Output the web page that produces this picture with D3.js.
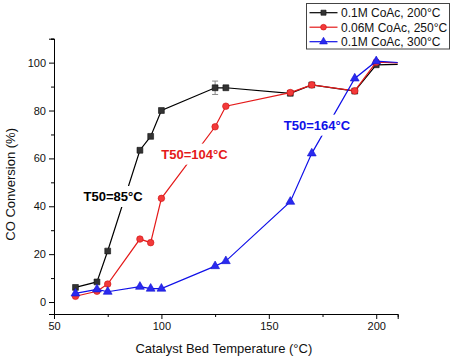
<!DOCTYPE html>
<html>
<head>
<meta charset="utf-8">
<script src="https://cdn.jsdelivr.net/npm/d3@7"></script>
<style>
body { margin: 0; background: #fff; }
text { font-family: Arial, "Liberation Sans", sans-serif; }
</style>
</head>
<body>
<script>
// data
var temps = [60, 70, 75, 90, 95, 100, 125, 130, 160, 170, 190, 200, 215];
var conv200 = [6.1, 8.4, 21.3, 63.4, 69.2, 80.0, 89.5, 89.5, 87.2, 90.7, 88.1, 99.1, 99.4];
var err200 = [0, 0, 0, 0, 0, 0, 2.8, 0, 0, 0, 0, 0, 0];
var conv250 = [2.4, 4.5, 7.5, 26.3, 24.8, 43.3, 73.2, 81.8, 87.5, 90.7, 88.2, 100.2, 99.8];
var conv300 = [3.6, 5.3, 4.3, 6.4, 5.6, 5.6, 15.0, 17.1, 41.9, 62.1, 93.4, 100.6, 99.8];
var seriesNames = ["0.1M CoAc, 200°C", "0.06M CoAc, 250°C", "0.1M CoAc, 300°C"];
var t50Labels = ["T50=85°C", "T50=104°C", "T50=164°C"];
var xTicks = [50, 100, 150, 200];
var yTicks = [0, 20, 40, 60, 80, 100];

var W = 454, H = 360;
var x = d3.scaleLinear().domain([50, 210]).range([54, 397.7]);
var y = d3.scaleLinear().domain([-5, 110]).range([314, 38.7]);

var svg = d3.select("body").append("svg").attr("width", W).attr("height", H);

svg.append("defs").append("clipPath").attr("id", "plotclip")
  .append("rect").attr("x", x(50)).attr("y", y(110))
  .attr("width", x(210) - x(50)).attr("height", y(-5) - y(110));

var series = [
  {name: seriesNames[0], vals: conv200, line: "#000", fill: "#333", stroke: "#111", sym: d3.symbolSquare, size: 34},
  {name: seriesNames[1], vals: conv250, line: "#e41a1a", fill: "#f23a3a", stroke: "#d01010", sym: d3.symbolCircle, size: 34},
  {name: seriesNames[2], vals: conv300, line: "#1010e8", fill: "#2a2af0", stroke: "#1010d0", sym: d3.symbolTriangle, size: 34}
];

// axes
var yAxis = d3.axisLeft(y).tickValues(yTicks).tickSize(5).tickPadding(3);
var yMinor = d3.axisLeft(y).tickValues([10, 30, 50, 70, 90, 110]).tickSize(3).tickFormat("");
var xAxis = d3.axisBottom(x).tickValues(xTicks).tickSize(5).tickPadding(3);
var xMinor = d3.axisBottom(x).tickValues([75, 125, 175]).tickSize(3).tickFormat("");

function styleAxis(g) {
  g.selectAll("path.domain").attr("stroke", "#000");
  g.selectAll("line").attr("stroke", "#000");
  g.selectAll("text").attr("font-size", 11).attr("fill", "#111")
    .attr("font-family", "Arial, 'Liberation Sans', sans-serif");
}

svg.append("g").attr("transform", "translate(" + x(50) + ",0)").call(yAxis).call(styleAxis);
svg.append("g").attr("transform", "translate(" + x(50) + ",0)").call(yMinor).call(styleAxis);
svg.append("g").attr("transform", "translate(0," + y(-5) + ")").call(xAxis).call(styleAxis);
svg.append("g").attr("transform", "translate(0," + y(-5) + ")").call(xMinor).call(styleAxis);

svg.append("text").attr("transform", "translate(15," + ((y(110) + y(-5)) / 2 + 8) + ") rotate(-90)")
  .attr("text-anchor", "middle").attr("font-size", 13).attr("fill", "#111")
  .text("CO Conversion (%)");
svg.append("text").attr("x", (x(50) + x(210)) / 2 - 2).attr("y", 353)
  .attr("text-anchor", "middle").attr("font-size", 13).attr("fill", "#111")
  .text("Catalyst Bed Temperature (°C)");

var plot = svg.append("g").attr("clip-path", "url(#plotclip)");

var line = d3.line().x(function(d) { return x(d.t); }).y(function(d) { return y(d.v); });

// error bars
var errData = temps.map(function(t, i) { return {t: t, v: conv200[i], e: err200[i]}; })
  .filter(function(d) { return d.e > 0; });
var eb = plot.selectAll("g.err").data(errData).join("g").attr("class", "err")
  .attr("stroke", "#888").attr("stroke-width", 1);
eb.append("line").attr("x1", function(d) { return x(d.t); }).attr("x2", function(d) { return x(d.t); })
  .attr("y1", function(d) { return y(d.v - d.e); }).attr("y2", function(d) { return y(d.v + d.e); });
eb.append("line").attr("x1", function(d) { return x(d.t) - 3; }).attr("x2", function(d) { return x(d.t) + 3; })
  .attr("y1", function(d) { return y(d.v + d.e); }).attr("y2", function(d) { return y(d.v + d.e); });
eb.append("line").attr("x1", function(d) { return x(d.t) - 3; }).attr("x2", function(d) { return x(d.t) + 3; })
  .attr("y1", function(d) { return y(d.v - d.e); }).attr("y2", function(d) { return y(d.v - d.e); });

series.forEach(function(s) {
  var pts = temps.map(function(t, i) { return {t: t, v: s.vals[i]}; });
  plot.append("path").datum(pts).attr("d", line)
    .attr("fill", "none").attr("stroke", s.line).attr("stroke-width", 1.2);
  plot.selectAll(null).data(pts.filter(function(d) { return d.t <= 210; })).join("path")
    .attr("d", d3.symbol().type(s.sym).size(s.size))
    .attr("transform", function(d) { return "translate(" + x(d.t) + "," + y(d.v) + ")"; })
    .attr("fill", s.fill).attr("stroke", s.stroke).attr("stroke-width", 0.6);
});

// T50 annotations, on a white box that cuts the curve
var annot = [
  {text: t50Labels[0], t: 77.5, v: 42.2, c: "#000"},
  {text: t50Labels[1], t: 115.4, v: 59.9, c: "#e41a1a"},
  {text: t50Labels[2], t: 172.4, v: 72, c: "#1010e8"}
];
var ag = svg.selectAll("g.annot").data(annot).join("g").attr("class", "annot");
var at = ag.append("text")
  .attr("x", function(d) { return x(d.t); }).attr("y", function(d) { return y(d.v); })
  .attr("text-anchor", "middle").attr("font-size", 13).attr("font-weight", "bold")
  .attr("fill", function(d) { return d.c; })
  .text(function(d) { return d.text; });
at.each(function() {
  var b = this.getBBox();
  d3.select(this.parentNode).insert("rect", "text")
    .attr("x", b.x - 2).attr("y", b.y - 3).attr("width", b.width + 4).attr("height", b.height + 6)
    .attr("fill", "#fff");
});

// legend
var lg = svg.append("g").attr("transform", "translate(306.5,3.5)");
lg.append("rect").attr("width", 143).attr("height", 45.5)
  .attr("fill", "#fff").attr("stroke", "#444").attr("stroke-width", 1);
var rows = lg.selectAll("g.row").data(series).join("g").attr("class", "row")
  .attr("transform", function(d, i) { return "translate(0," + (9.2 + i * 14.5) + ")"; });
rows.append("line").attr("x1", 3).attr("x2", 31).attr("stroke", function(d) { return d.line; }).attr("stroke-width", 1.2);
rows.append("path").attr("d", function(d) { return d3.symbol().type(d.sym).size(26)(); })
  .attr("transform", "translate(17,0)")
  .attr("fill", function(d) { return d.fill; }).attr("stroke", function(d) { return d.stroke; }).attr("stroke-width", 0.6);
rows.append("text").attr("x", 34.5).attr("y", 4.3).attr("font-size", 12).attr("fill", "#111")
  .text(function(d) { return d.name; });
</script>
</body>
</html>
